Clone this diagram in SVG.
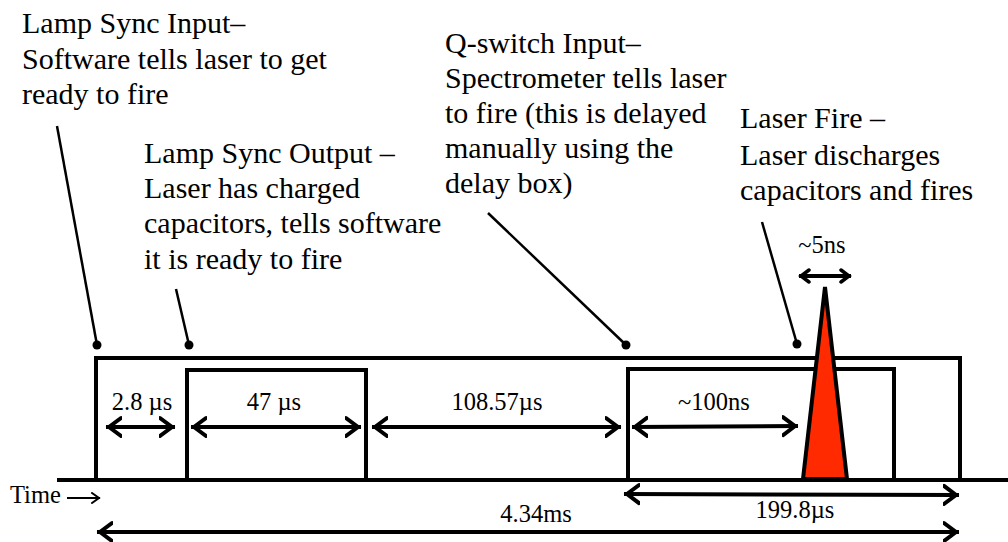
<svg xmlns="http://www.w3.org/2000/svg" width="1008" height="542" viewBox="0 0 1008 542">
  <style>
    text { font-family: 'Liberation Serif', 'Times New Roman', serif; fill: #000; }
    .lbl { font-size: 30px; }
    .dim { font-size: 24.5px; text-anchor: middle; }
    .pulse { fill: none; stroke: #000; stroke-width: 4; stroke-linejoin: miter; }
    .dimline { fill: none; stroke: #000; stroke-width: 4; }
    .leader { fill: none; stroke: #000; stroke-width: 2.5; }
    .dot { fill: #000; }
  </style>
  <defs>
    <marker id="chev" viewBox="-16 -12 18 24" refX="0" refY="0" markerWidth="18" markerHeight="24" markerUnits="userSpaceOnUse" orient="auto-start-reverse">
      <path d="M-15,-9 L-3,0 L-15,9" fill="none" stroke="#000" stroke-width="4" stroke-linecap="round"/>
    </marker>
    <marker id="chevSmall" viewBox="-12 -8 14 16" refX="0" refY="0" markerWidth="14" markerHeight="16" markerUnits="userSpaceOnUse" orient="auto-start-reverse">
      <path d="M-10,-6 L-2,0 L-10,6" fill="none" stroke="#000" stroke-width="3.5" stroke-linecap="round"/>
    </marker>
    <marker id="thin" viewBox="-10 -6 12 12" refX="0" refY="0" markerWidth="12" markerHeight="12" markerUnits="userSpaceOnUse" orient="auto">
      <path d="M-8,-5 L-1,0 L-8,5" fill="none" stroke="#000" stroke-width="2" stroke-linecap="round"/>
    </marker>
  </defs>

  <rect width="1008" height="542" fill="#fff"/>

  <!-- signal traces -->
  <g id="time-axis">
    <line x1="57" y1="480" x2="1008" y2="480" class="pulse"/>
  </g>
  <g id="lamp-sync-input-pulse">
    <polyline points="96,480 96,358 960,358 960,480" class="pulse"/>
  </g>
  <g id="lamp-sync-output-pulse">
    <polyline points="187,480 187,370 366,370 366,480" class="pulse"/>
  </g>
  <g id="q-switch-pulse">
    <polyline points="628,480 628,369 894,369 894,480" class="pulse"/>
  </g>
  <g id="laser-fire-pulse">
    <polygon points="825,287 847,479 803,479" fill="#ff2a00" stroke="#000" stroke-width="4" stroke-linejoin="miter"/>
  </g>

  <!-- annotation callouts -->
  <g id="lamp-sync-input">
    <text class="lbl" x="22" y="33">Lamp Sync Input&#8211;</text>
    <text class="lbl" x="22" y="69">Software tells laser to get</text>
    <text class="lbl" x="22" y="104">ready to fire</text>
  </g>
  <g id="lamp-sync-output">
    <text class="lbl" x="144" y="163">Lamp Sync Output &#8211;</text>
    <text class="lbl" x="144" y="198">Laser has charged</text>
    <text class="lbl" x="144" y="233">capacitors, tells software</text>
    <text class="lbl" x="144" y="269">it is ready to fire</text>
  </g>
  <g id="q-switch-input">
    <text class="lbl" x="445" y="53">Q-switch Input&#8211;</text>
    <text class="lbl" x="445" y="88">Spectrometer tells laser</text>
    <text class="lbl" x="445" y="123">to fire (this is delayed</text>
    <text class="lbl" x="445" y="158">manually using the</text>
    <text class="lbl" x="445" y="193">delay box)</text>
  </g>
  <g id="laser-fire">
    <text class="lbl" x="740" y="128">Laser Fire &#8211;</text>
    <text class="lbl" x="740" y="165">Laser discharges</text>
    <text class="lbl" x="740" y="200">capacitors and fires</text>
  </g>

  <!-- leader lines and measurement arrows -->
  <g id="connectors">
    <line class="leader" x1="57" y1="126" x2="97" y2="345"/>
    <circle class="dot" cx="97" cy="345" r="4.5"/>
    <line class="leader" x1="176" y1="289" x2="189" y2="345"/>
    <circle class="dot" cx="189" cy="345" r="4.5"/>
    <line class="leader" x1="488" y1="213" x2="626" y2="345"/>
    <circle class="dot" cx="626" cy="345" r="4.5"/>
    <line class="leader" x1="762" y1="222" x2="797" y2="344"/>
    <circle class="dot" cx="797" cy="344" r="4.5"/>

    <line class="dimline" x1="106" y1="427" x2="175" y2="427" marker-start="url(#chev)" marker-end="url(#chev)"/>
    <line class="dimline" x1="191" y1="427" x2="361" y2="427" marker-start="url(#chev)" marker-end="url(#chev)"/>
    <line class="dimline" x1="372" y1="427" x2="621" y2="427" marker-start="url(#chev)" marker-end="url(#chev)"/>
    <line class="dimline" x1="632" y1="427" x2="798" y2="426" marker-start="url(#chev)" marker-end="url(#chev)"/>
    <line class="dimline" x1="799" y1="276" x2="851" y2="276" marker-start="url(#chevSmall)" marker-end="url(#chevSmall)"/>
    <line class="dimline" x1="624" y1="494" x2="959" y2="495" marker-start="url(#chev)" marker-end="url(#chev)"/>
    <line class="dimline" x1="97" y1="532" x2="959" y2="532" marker-start="url(#chev)" marker-end="url(#chev)"/>
    <line x1="67" y1="498" x2="100" y2="498" stroke="#000" stroke-width="2" marker-end="url(#thin)"/>
  </g>

  <g id="measurements">
    <text class="dim" x="142" y="410">2.8 &#181;s</text>
    <text class="dim" x="274" y="410">47 &#181;s</text>
    <text class="dim" x="497" y="410">108.57&#181;s</text>
    <text class="dim" x="714" y="410">~100ns</text>
    <text class="dim" x="822" y="253">~5ns</text>
    <text class="dim" x="795" y="518">199.8&#181;s</text>
    <text class="dim" x="536" y="522">4.34ms</text>
    <text class="dim" x="10" y="503" style="text-anchor:start">Time</text>
  </g>
</svg>
